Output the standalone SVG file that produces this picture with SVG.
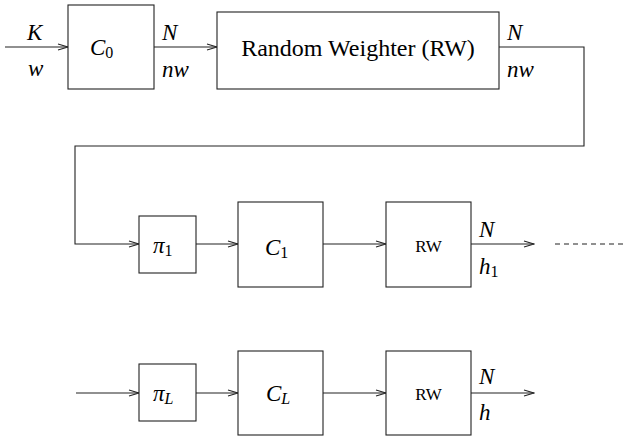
<svg xmlns="http://www.w3.org/2000/svg" width="626" height="441" viewBox="0 0 626 441">
<defs>
<style>
.box{fill:#fff;stroke:#222;stroke-width:1.1}
.ln{fill:none;stroke:#222;stroke-width:1.1}
</style>
<marker id="ah" markerUnits="userSpaceOnUse" markerWidth="12" markerHeight="8" refX="11" refY="4" orient="auto">
<path d="M1,1 L11,4 L1,7" fill="none" stroke="#222" stroke-width="1.1"/>
</marker>
</defs>
<g id="connectors">
<line class="ln" x1="5" y1="47" x2="68" y2="47" marker-end="url(#ah)"/>
<line class="ln" x1="154" y1="47" x2="217" y2="47" marker-end="url(#ah)"/>
<polyline class="ln" points="499,47 584,47 584,146 75,146 75,244 139,244" marker-end="url(#ah)"/>
<line class="ln" x1="196" y1="244" x2="238" y2="244" marker-end="url(#ah)"/>
<line class="ln" x1="323" y1="244" x2="386" y2="244" marker-end="url(#ah)"/>
<line class="ln" x1="471" y1="244" x2="534" y2="244" marker-end="url(#ah)"/>
<line class="ln" x1="555" y1="244" x2="626" y2="244" stroke-dasharray="5,4"/>
<line class="ln" x1="76" y1="393" x2="139" y2="393" marker-end="url(#ah)"/>
<line class="ln" x1="196" y1="393" x2="238" y2="393" marker-end="url(#ah)"/>
<line class="ln" x1="323" y1="393" x2="386" y2="393" marker-end="url(#ah)"/>
<line class="ln" x1="471" y1="393" x2="534" y2="393" marker-end="url(#ah)"/>
</g>
<g id="labels">
<text x="27" y="40" font-family="Liberation Serif" font-style="italic" font-size="23">K</text>
<text x="28" y="76" font-family="Liberation Serif" font-style="italic" font-size="23">w</text>
<text x="162" y="40" font-family="Liberation Serif" font-style="italic" font-size="23">N</text>
<text x="162" y="77" font-family="Liberation Serif" font-style="italic" font-size="23">nw</text>
<text x="507" y="40" font-family="Liberation Serif" font-style="italic" font-size="23">N</text>
<text x="507" y="77" font-family="Liberation Serif" font-style="italic" font-size="23">nw</text>
<text x="479" y="237" font-family="Liberation Serif" font-style="italic" font-size="23">N</text>
<text x="479" y="274" font-family="Liberation Serif" font-style="italic" font-size="23">h<tspan font-style="normal" font-size="16" dy="3">1</tspan></text>
<text x="479" y="384" font-family="Liberation Serif" font-style="italic" font-size="23">N</text>
<text x="479" y="420" font-family="Liberation Serif" font-style="italic" font-size="23">h</text>
</g>
<g id="C0">
<rect class="box" x="68" y="5" width="86" height="84"/>
<text x="90" y="55" font-family="Liberation Serif" font-style="italic" font-size="23">C<tspan font-style="normal" font-size="16" dy="3">0</tspan></text>
</g>
<g id="RW0">
<rect class="box" x="217" y="12" width="282" height="77"/>
<text x="358" y="56" font-family="Liberation Serif" font-size="24" text-anchor="middle">Random Weighter (RW)</text>
</g>
<g id="pi1">
<rect class="box" x="139" y="216" width="57" height="57"/>
<text x="153" y="253" font-family="Liberation Serif" font-style="italic" font-size="23">π<tspan font-style="normal" font-size="16" dy="3">1</tspan></text>
</g>
<g id="C1">
<rect class="box" x="238" y="202" width="85" height="85"/>
<text x="265" y="255" font-family="Liberation Serif" font-style="italic" font-size="23">C<tspan font-style="normal" font-size="16" dy="3">1</tspan></text>
</g>
<g id="RW1">
<rect class="box" x="386" y="202" width="85" height="85"/>
<text x="428.5" y="252" font-family="Liberation Serif" font-size="17" text-anchor="middle">RW</text>
</g>
<g id="piL">
<rect class="box" x="139" y="364" width="57" height="57"/>
<text x="153" y="401" font-family="Liberation Serif" font-style="italic" font-size="23">π<tspan font-size="16" dy="3">L</tspan></text>
</g>
<g id="CL">
<rect class="box" x="238" y="351" width="85" height="84"/>
<text x="266" y="401" font-family="Liberation Serif" font-style="italic" font-size="23">C<tspan font-size="16" dy="3">L</tspan></text>
</g>
<g id="RWL">
<rect class="box" x="386" y="351" width="85" height="84"/>
<text x="428.5" y="400" font-family="Liberation Serif" font-size="17" text-anchor="middle">RW</text>
</g>
</svg>
